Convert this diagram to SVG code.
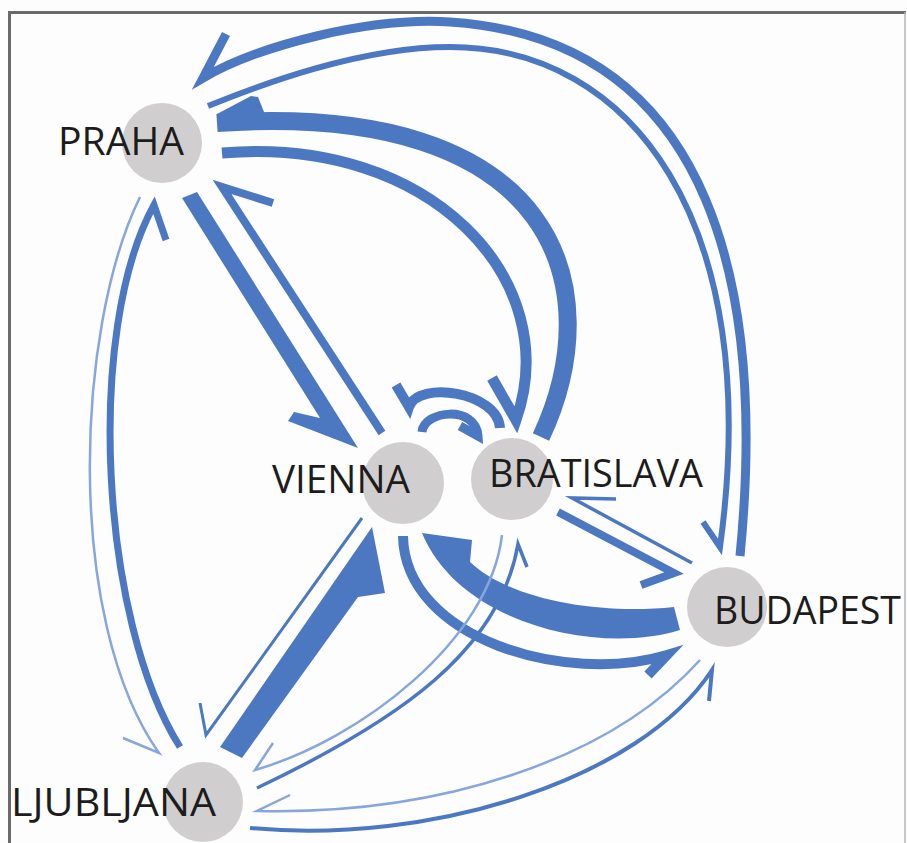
<svg xmlns="http://www.w3.org/2000/svg" width="907" height="843" viewBox="0 0 907 843">
<style>
.c{fill:none;stroke:#4b78c1;stroke-linecap:butt;stroke-linejoin:miter;stroke-miterlimit:12}
.l{fill:none;stroke:#86a6dc;stroke-linecap:butt;stroke-linejoin:miter;stroke-miterlimit:12}
.f{fill:#4b78c1}
.n{fill:#d0cecf}
.t{font-family:"Open Sans","Liberation Sans",sans-serif;font-size:39px;fill:#1c1c1c}
</style>
<rect width="907" height="843" fill="#fdfdfd"/>
<g id="frame" fill="none">
<line x1="8" y1="12.5" x2="906" y2="12.5" stroke="#6a6a6a" stroke-width="3"/>
<line x1="9.5" y1="11" x2="9.5" y2="843" stroke="#6a6a6a" stroke-width="3"/>
<line x1="905" y1="12" x2="905" y2="843" stroke="#b4b4b4" stroke-width="1.5"/>
</g>
<g id="connectors">
<path class="c" stroke-width="9" d="M740,556 C765,300 720,40 450,22 C370,17 260,45 203,78 L226,34"/>
<path class="c" stroke-width="6" d="M208,106 C260,85 360,47 450,47 C630,47 765,220 720,547 L703,522"/>
<path class="c" stroke-width="18" d="M541,437 C610,290 560,100 217,123"/>
<polygon class="f" points="217,114 251,96 258,97 264,112 264,120 217,120"/>
<path class="c" stroke-width="11" d="M222,153 C430,135 565,280 516,420 L492,378"/>
<polygon class="f" points="197,192 358,448 288,421 294,412 320,418 182,198"/>
<path class="c" stroke-width="8" d="M382,433 L222,187 L273,203"/>
<path class="c" stroke-width="7" d="M180,747 C100,620 85,330 154,205 L166,240"/>
<path class="l" stroke-width="2.5" d="M140,197 C75,330 65,620 159,753 L123,738"/>
<path class="c" stroke-width="3" d="M362,518 L206,735 L200,703"/>
<polygon class="f" points="220,747 372,527 385,593 358,597 242,758"/>
<path class="f" d="M680,630 C600,655 460,625 422,533 L472,540 L470,562 C510,600 600,615 674,607 Z"/>
<path class="c" stroke-width="10" d="M403,536 C405,640 567,685 667,655 L648,675"/>
<path class="c" stroke-width="8" d="M558,512 L674,573 L641,585"/>
<path class="c" stroke-width="3.5" d="M692,563 L572,498 L616,499"/>
<path class="l" stroke-width="2.5" d="M502,535 C490,640 360,740 255,770 L273,743"/>
<path class="c" stroke-width="3.5" d="M257,788 C400,720 500,650 518,544 L527,567"/>
<path class="l" stroke-width="2.5" d="M700,660 C610,760 440,815 257,811 L290,795"/>
<path class="c" stroke-width="4" d="M250,828 C430,845 640,780 712,670 L709,701"/>
<path class="c" stroke-width="10" d="M500,428 C498,392 418,380 409,407 L396,385"/>
<path class="c" stroke-width="9" d="M422,432 C424,410 476,405 478,436 L460,426"/>
</g>
<g id="praha"><circle class="n" cx="162" cy="143" r="40"/><text class="t" x="58" y="155" textLength="126" lengthAdjust="spacingAndGlyphs">PRAHA</text></g>
<g id="vienna"><circle class="n" cx="403" cy="483" r="41"/><text class="t" x="272" y="493" textLength="138" lengthAdjust="spacingAndGlyphs">VIENNA</text></g>
<g id="bratislava"><circle class="n" cx="512" cy="479" r="41"/><text class="t" x="489" y="487" textLength="214" lengthAdjust="spacingAndGlyphs">BRATISLAVA</text></g>
<g id="budapest"><circle class="n" cx="727" cy="607" r="40"/><text class="t" x="714" y="624" textLength="187" lengthAdjust="spacingAndGlyphs">BUDAPEST</text></g>
<g id="ljubljana"><circle class="n" cx="203" cy="802" r="40"/><text class="t" x="11" y="816" textLength="205" lengthAdjust="spacingAndGlyphs">LJUBLJANA</text></g>
</svg>
